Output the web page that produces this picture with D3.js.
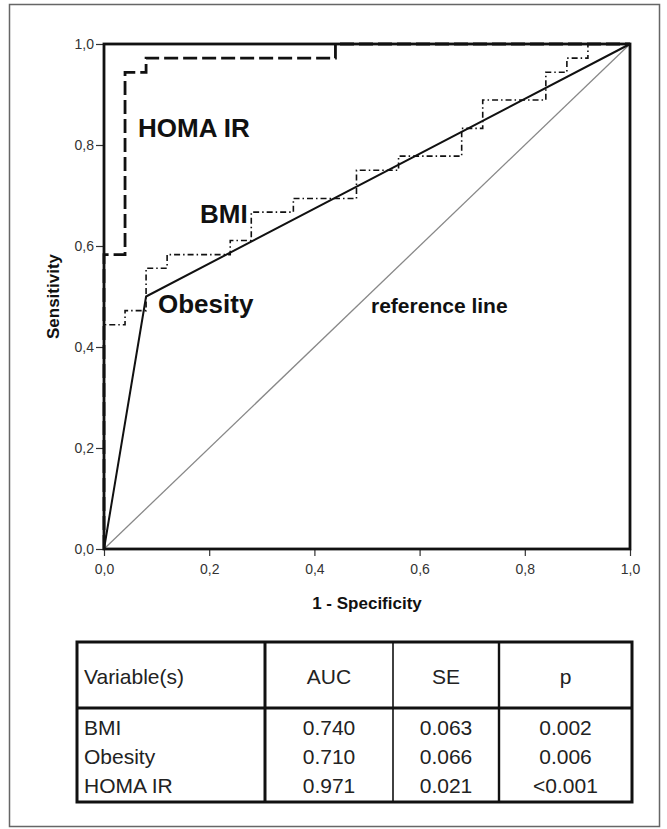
<!DOCTYPE html>
<html>
<head>
<meta charset="utf-8">
<script src="https://cdn.jsdelivr.net/npm/d3@7"></script>
<style>
  body { margin: 0; background: #fff; }
  svg text { font-family: "Liberation Sans", Arial, sans-serif; }
</style>
</head>
<body>
<div id="viz"></div>
<script>
// ROC curves, points are (1 - specificity, sensitivity)
var bmiX = [0, 0, 0.04, 0.04, 0.08, 0.08, 0.12, 0.12, 0.24, 0.24, 0.28, 0.28, 0.36, 0.36, 0.48, 0.48, 0.56, 0.56, 0.68, 0.68, 0.72, 0.72, 0.84, 0.84, 0.88, 0.88, 0.92, 0.92, 1],
    bmiY = [0, 0.444, 0.444, 0.472, 0.472, 0.556, 0.556, 0.583, 0.583, 0.611, 0.611, 0.667, 0.667, 0.694, 0.694, 0.75, 0.75, 0.778, 0.778, 0.833, 0.833, 0.889, 0.889, 0.944, 0.944, 0.972, 0.972, 1, 1];
var obesityX = [0, 0.08, 1],
    obesityY = [0, 0.5, 1];
var homaX = [0, 0, 0.04, 0.04, 0.08, 0.08, 0.44, 0.44, 1],
    homaY = [0, 0.583, 0.583, 0.944, 0.944, 0.972, 0.972, 1, 1];
var refX = [0, 1],
    refY = [0, 1];
var ticks = [0, 0.2, 0.4, 0.6, 0.8, 1.0];

var tableHead = ['Variable(s)', 'AUC', 'SE', 'p'];
var tableVars = ['BMI', 'Obesity', 'HOMA IR'],
    tableAUC = ['0.740', '0.710', '0.971'],
    tableSE = ['0.063', '0.066', '0.021'],
    tableP = ['0.002', '0.006', '<0.001'];

var W = 667, H = 829,
    plot = { left: 104, top: 44, right: 630, bottom: 549 };

var svg = d3.select('#viz').append('svg')
    .attr('width', W)
    .attr('height', H);

// outer figure border
svg.append('rect')
    .attr('x', 9.5).attr('y', 4.5)
    .attr('width', 650).attr('height', 822)
    .attr('fill', 'none')
    .attr('stroke', '#666')
    .attr('stroke-width', 1.5);

var x = d3.scaleLinear().domain([0, 1]).range([plot.left, plot.right]),
    y = d3.scaleLinear().domain([0, 1]).range([plot.bottom, plot.top]);

var fmt = function(d) { return d3.format('.1f')(d).replace('.', ','); };

var yAxis = svg.append('g')
    .attr('transform', 'translate(' + plot.left + ',0)')
    .call(d3.axisLeft(y).tickValues(ticks).tickFormat(fmt).tickSize(8).tickPadding(2));
var xAxis = svg.append('g')
    .attr('transform', 'translate(0,' + plot.bottom + ')')
    .call(d3.axisBottom(x).tickValues(ticks).tickFormat(fmt).tickSize(7).tickPadding(8));

[xAxis, yAxis].forEach(function(a) {
    a.select('.domain').remove();
    a.selectAll('line').attr('stroke', '#333').attr('stroke-width', 1.2);
    a.selectAll('text')
        .attr('fill', '#333')
        .style('font-size', '14px')
        .style('font-family', '"Liberation Sans", Arial, sans-serif');
});

function pts(xs, ys) {
    return xs.map(function(d, i) { return [d, ys[i]]; });
}
var line = d3.line()
    .x(function(d) { return x(d[0]); })
    .y(function(d) { return y(d[1]); });

// reference line
svg.append('path')
    .attr('d', line(pts(refX, refY)))
    .attr('fill', 'none')
    .attr('stroke', '#888')
    .attr('stroke-width', 1.3);

// BMI
svg.append('path')
    .attr('d', line(pts(bmiX, bmiY)))
    .attr('fill', 'none')
    .attr('stroke', '#111')
    .attr('stroke-width', 1.6)
    .attr('stroke-dasharray', '6,3,1.5,3');

// Obesity
svg.append('path')
    .attr('d', line(pts(obesityX, obesityY)))
    .attr('fill', 'none')
    .attr('stroke', '#111')
    .attr('stroke-width', 2);

// HOMA IR
svg.append('path')
    .attr('d', line(pts(homaX, homaY)))
    .attr('fill', 'none')
    .attr('stroke', '#111')
    .attr('stroke-width', 2.8)
    .attr('stroke-dasharray', '14,5');

// plot frame
svg.append('rect')
    .attr('x', plot.left).attr('y', plot.top)
    .attr('width', plot.right - plot.left)
    .attr('height', plot.bottom - plot.top)
    .attr('fill', 'none')
    .attr('stroke', '#111')
    .attr('stroke-width', 2.8);

// curve labels
var labels = [
    { t: 'HOMA IR', x: 138, y: 137, s: 26 },
    { t: 'BMI', x: 200, y: 223, s: 26 },
    { t: 'Obesity', x: 158, y: 313, s: 26 },
    { t: 'reference line', x: 371, y: 313, s: 21 }
];
svg.selectAll('.lab').data(labels)
    .enter().append('text')
    .attr('class', 'lab')
    .attr('x', function(d) { return d.x; })
    .attr('y', function(d) { return d.y; })
    .style('font-size', function(d) { return d.s + 'px'; })
    .style('font-weight', 'bold')
    .attr('fill', '#111')
    .text(function(d) { return d.t; });

// axis titles
svg.append('text')
    .attr('x', (plot.left + plot.right) / 2)
    .attr('y', 609)
    .attr('text-anchor', 'middle')
    .style('font-size', '17px')
    .style('font-weight', 'bold')
    .attr('fill', '#111')
    .text('1 - Specificity');
svg.append('text')
    .attr('transform', 'translate(59,' + ((plot.top + plot.bottom) / 2) + ') rotate(-90)')
    .attr('text-anchor', 'middle')
    .style('font-size', '17px')
    .style('font-weight', 'bold')
    .attr('fill', '#111')
    .text('Sensitivity');

// table
var tb = { left: 77, top: 642, right: 632, bottom: 802, headBottom: 708 },
    cols = [77, 265, 393, 499, 632];

var tg = svg.append('g');
tg.append('rect')
    .attr('x', tb.left).attr('y', tb.top)
    .attr('width', tb.right - tb.left).attr('height', tb.bottom - tb.top)
    .attr('fill', 'none').attr('stroke', '#111').attr('stroke-width', 3);
tg.append('line')
    .attr('x1', tb.left).attr('x2', tb.right)
    .attr('y1', tb.headBottom).attr('y2', tb.headBottom)
    .attr('stroke', '#111').attr('stroke-width', 3);
tg.selectAll('.div').data(cols.slice(1, 4))
    .enter().append('line')
    .attr('x1', function(d) { return d; }).attr('x2', function(d) { return d; })
    .attr('y1', tb.top).attr('y2', tb.bottom)
    .attr('stroke', '#111')
    .attr('stroke-width', function(d, i) { return i == 0 ? 3 : (i == 1 ? 1.6 : 2.4); });

tg.selectAll('.head').data(tableHead)
    .enter().append('text')
    .attr('x', function(d, i) { return i == 0 ? cols[0] + 7 : (cols[i] + cols[i + 1]) / 2; })
    .attr('y', 684)
    .attr('text-anchor', function(d, i) { return i == 0 ? 'start' : 'middle'; })
    .style('font-size', '21px')
    .attr('fill', '#222')
    .text(function(d) { return d; });

var rowY = [735, 764, 793];
var colsData = [tableVars, tableAUC, tableSE, tableP];
colsData.forEach(function(arr, c) {
    tg.selectAll('.c' + c).data(arr)
        .enter().append('text')
        .attr('x', c == 0 ? cols[0] + 7 : (cols[c] + cols[c + 1]) / 2)
        .attr('y', function(d, i) { return rowY[i]; })
        .attr('text-anchor', c == 0 ? 'start' : 'middle')
        .style('font-size', '21px')
        .attr('fill', '#222')
        .text(function(d) { return d; });
});
</script>
</body>
</html>
